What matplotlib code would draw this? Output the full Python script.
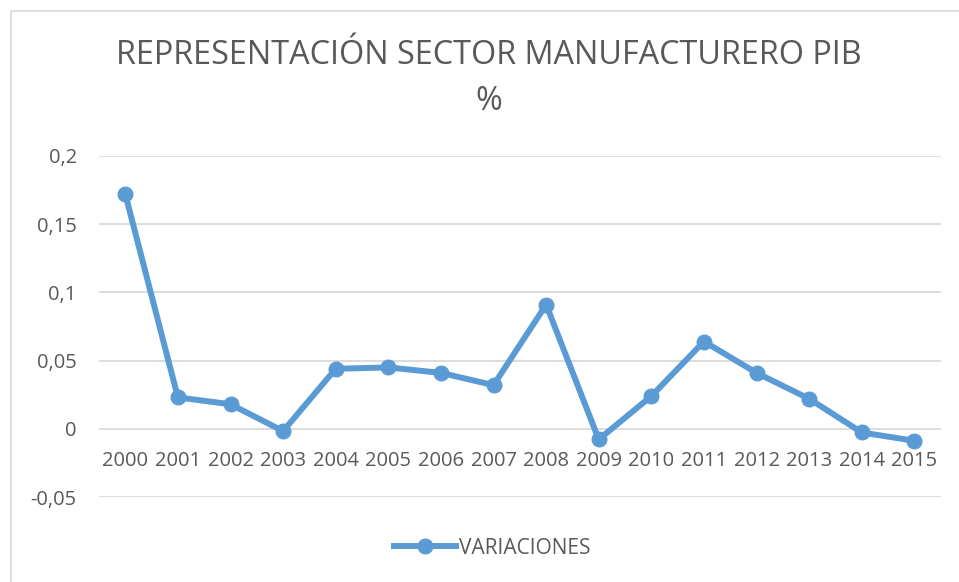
import matplotlib
matplotlib.use("Agg")
import matplotlib.pyplot as plt
from matplotlib.patches import Rectangle
from matplotlib.lines import Line2D

# datos
years = ['2000', '2001', '2002', '2003', '2004', '2005', '2006', '2007',
         '2008', '2009', '2010', '2011', '2012', '2013', '2014', '2015']
variaciones = [0.172, 0.023, 0.018, -0.0017, 0.044, 0.045, 0.041, 0.032,
               0.091, -0.0078, 0.024, 0.064, 0.041, 0.022, -0.0027, -0.0088]
y_ticks = [-0.05, 0, 0.05, 0.1, 0.15, 0.2]
y_labels = ['-0,05', '0', '0,05', '0,1', '0,15', '0,2']

blue = '#5B9BD5'
gray_text = '#595959'
grid = '#D9D9D9'

plt.rcParams['font.family'] = ['Open Sans', 'DejaVu Sans']

fig = plt.figure(figsize=(9.59, 5.82), dpi=100)
fig.patch.set_facecolor('white')

# marco exterior del grafico
fig.patches.append(Rectangle((11 / 959, -0.1), 1.2, 1 - 11 / 582 + 0.1,
                             transform=fig.transFigure, fill=False,
                             edgecolor=grid, linewidth=1.2))

ax = fig.add_axes([99 / 959, 1 - 497 / 582, (940.7 - 99) / 959, (497 - 156) / 582])
x = list(range(len(years)))
ax.plot(x, variaciones, color=blue, linewidth=4.3, marker='o',
        markersize=10.5, solid_joinstyle='round', zorder=3)

ax.set_xlim(-0.5, len(years) - 0.5)
ax.set_ylim(-0.05, 0.2)
ax.set_yticks(y_ticks)
ax.set_yticklabels(y_labels)
ax.set_xticks(x)
ax.set_xticklabels(years)

ax.grid(axis='y', color=grid, linewidth=1.3)
ax.set_axisbelow(True)
for s in ax.spines.values():
    s.set_visible(False)
ax.spines['bottom'].set_position(('data', 0))
ax.tick_params(axis='both', length=0, labelsize=14.5, colors=gray_text)
ax.tick_params(axis='y', pad=16)
ax.tick_params(axis='x', pad=16)

fig.text(489 / 959, 1 - 55 / 582, 'REPRESENTACIÓN SECTOR MANUFACTURERO PIB',
         ha='center', va='center', fontsize=23.3, color=gray_text)
fig.text(489 / 959, 1 - 102 / 582, '%',
         ha='center', va='center', fontsize=23.3, color=gray_text)

handle = Line2D([], [], color=blue, linewidth=4.3, marker='o', markersize=10.5)
fig.legend([handle], ['VARIACIONES'], loc='center', bbox_to_anchor=(492 / 959, 1 - 548 / 582),
           frameon=False, fontsize=15, labelcolor=gray_text, handlelength=3.0,
           handletextpad=0.1)

fig.savefig('out.png', dpi=100)
